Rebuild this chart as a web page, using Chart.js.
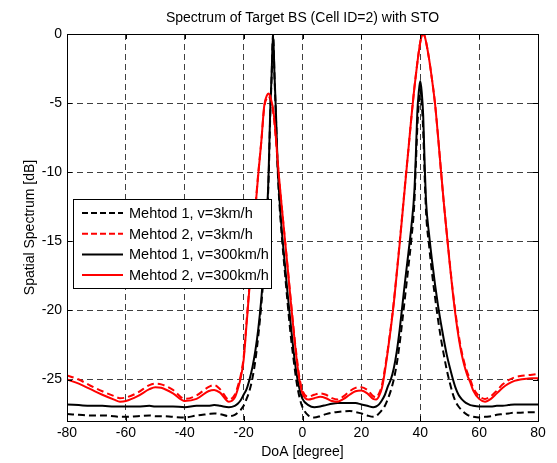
<!DOCTYPE html>
<html>
<head>
<meta charset="utf-8">
<script src="https://cdn.jsdelivr.net/npm/chart.js@4.4.1/dist/chart.umd.min.js"></script>
<style>
  body { margin: 0; background: #fff; }
  canvas { display: block; }
</style>
</head>
<body>
<canvas id="chart" width="557" height="463"></canvas>
<script>
// Data
const doa = [
    -80, -76, -72, -68, -64, -62, -60, -56, -52, -50,
    -48, -44, -40, -36, -32, -30, -28, -25, -23, -22,
    -21, -20, -19, -18, -17, -16, -15, -14, -13, -12,
    -11.5, -11, -10.5, -10, -9.5, -9, -8.5, -8, -7, -6,
    -5, -4, -3, -2, -1, 0, 2, 4, 6, 8,
    10, 12, 14, 16, 18, 20, 22, 24, 25, 26,
    27, 28, 29, 30, 31, 32, 33, 34, 35, 36,
    37, 38, 38.5, 39, 39.5, 40, 40.5, 41, 41.5, 42,
    43, 44, 45, 46, 47, 48, 49, 50, 51, 52,
    53, 54, 55, 56, 57, 58, 60, 62, 64, 66,
    68, 70, 72, 74, 76, 78, 80
];

// Mehtod 1, v=3km/h (black dashed)
const m1v3 = [
    -27.5, -27.55, -27.6, -27.6, -27.65, -27.7, -27.7, -27.65, -27.6, -27.65,
    -27.65, -27.7, -27.75, -27.6, -27.5, -27.45, -27.5, -27.65, -27.55, -27.4,
    -27.2, -26.9, -26.4, -25.8, -24.9, -23.6, -21.8, -19.6, -16.8, -13.0,
    -10.4, -6.2, -3.2, 0, -3.2, -6.2, -9.4, -11.7, -14.7, -17.2,
    -19.6, -21.8, -23.6, -25.2, -26.3, -27.0, -27.6, -27.75, -27.65, -27.5,
    -27.4, -27.35, -27.3, -27.28, -27.35, -27.45, -27.6, -27.7, -27.65, -27.45,
    -27.2, -26.9, -26.4, -25.8, -25.0, -23.9, -22.4, -20.6, -18.7, -16.8,
    -14.8, -12.2, -9.5, -6.8, -5.0, -4.0, -5.0, -7.0, -10.3, -13.0,
    -15.3, -17.3, -19.0, -20.6, -22.0, -23.2, -24.3, -25.2, -26.0, -26.6,
    -26.95, -27.2, -27.4, -27.55, -27.65, -27.7, -27.75, -27.7, -27.65, -27.55,
    -27.5, -27.45, -27.4, -27.4, -27.38, -27.36, -27.36
];

// Mehtod 2, v=3km/h (red dashed)
const m2v3 = [
    -24.7, -25.0, -25.45, -25.85, -26.2, -26.35, -26.3, -25.95, -25.4, -25.3,
    -25.35, -25.75, -26.4, -26.15, -25.55, -25.4, -25.7, -26.45, -26.1, -25.5,
    -24.7, -23.4, -20.8, -18.1, -14.9, -12.5, -10.0, -7.8, -5.3, -4.6,
    -4.5, -4.7, -5.1, -5.6, -6.5, -7.7, -9.1, -10.4, -12.6, -14.8,
    -17.0, -19.2, -21.4, -23.3, -24.9, -25.8, -26.25, -26.1, -26.0, -26.1,
    -26.35, -26.45, -26.2, -25.85, -25.6, -25.55, -25.75, -26.2, -26.3, -26.0,
    -25.4, -24.2, -22.8, -21.2, -19.4, -17.3, -15.1, -12.8, -10.5, -8.3,
    -6.0, -3.9, -3.0, -2.1, -1.3, -0.6, -0.15, 0, -0.15, -0.6,
    -1.8, -3.3, -5.0, -7.3, -9.8, -12.2, -14.4, -16.5, -18.5, -20.2,
    -21.7, -22.9, -23.8, -24.5, -25.0, -25.6, -26.2, -26.4, -26.2, -25.8,
    -25.35, -25.05, -24.85, -24.75, -24.7, -24.65, -24.6
];

// Mehtod 1, v=300km/h (black solid)
const m1v300 = [
    -26.8, -26.85, -26.9, -26.9, -26.95, -26.95, -26.95, -26.95, -26.9, -26.95,
    -26.95, -26.95, -27.0, -26.9, -26.9, -26.85, -26.9, -27.0, -26.9, -26.75,
    -26.5, -26.1, -25.7, -25.0, -24.1, -22.9, -21.3, -19.2, -16.4, -12.8,
    -10.0, -5.8, -3.0, 0, -3.0, -5.8, -9.2, -11.3, -14.3, -16.6,
    -18.9, -21.0, -23.0, -24.6, -25.7, -26.4, -26.85, -27.0, -26.95, -26.85,
    -26.75, -26.7, -26.7, -26.7, -26.7, -26.8, -26.9, -27.0, -26.95, -26.8,
    -26.5, -26.1, -25.5, -25.0, -24.2, -23.0, -21.4, -19.5, -17.6, -15.8,
    -13.9, -11.4, -8.8, -5.7, -4.2, -3.4, -4.2, -5.9, -9.4, -12.2,
    -14.5, -16.4, -18.1, -19.6, -20.9, -22.1, -23.2, -24.1, -24.9, -25.6,
    -26.1, -26.4, -26.6, -26.75, -26.85, -26.9, -26.95, -26.95, -26.95, -26.9,
    -26.9, -26.85, -26.8, -26.8, -26.8, -26.8, -26.8
];

// Mehtod 2, v=300km/h (red solid)
const m2v300 = [
    -25.0, -25.3, -25.7, -26.1, -26.45, -26.6, -26.55, -26.2, -25.7, -25.55,
    -25.6, -26.0, -26.55, -26.4, -25.85, -25.75, -25.95, -26.6, -26.3, -25.7,
    -24.9, -23.6, -21.0, -18.3, -15.0, -12.6, -10.1, -7.8, -5.2, -4.4,
    -4.3, -4.5, -4.9, -5.4, -6.3, -7.6, -9.0, -10.3, -12.6, -14.8,
    -17.0, -19.3, -21.5, -23.5, -25.1, -26.0, -26.45, -26.35, -26.25, -26.35,
    -26.55, -26.6, -26.4, -26.1, -25.85, -25.8, -26.0, -26.4, -26.45, -26.2,
    -25.6, -24.4, -22.9, -21.3, -19.5, -17.4, -15.2, -12.9, -10.6, -8.3,
    -6.0, -3.9, -3.0, -2.1, -1.3, -0.6, -0.15, 0, -0.15, -0.6,
    -1.8, -3.3, -5.0, -7.3, -9.8, -12.2, -14.4, -16.6, -18.6, -20.4,
    -21.9, -23.1, -24.0, -24.7, -25.2, -25.8, -26.4, -26.6, -26.4, -26.0,
    -25.6, -25.3, -25.1, -25.0, -24.95, -24.9, -24.9
];

const xTicks = [-80, -60, -40, -20, 0, 20, 40, 60, 80];
const yTicks = [0, -5, -10, -15, -20, -25];

const seriesLabels = ['Mehtod 1, v=3km/h', 'Mehtod 2, v=3km/h', 'Mehtod 1, v=300km/h', 'Mehtod 2, v=300km/h'];
const seriesColors = ['#000000', '#ff0000', '#000000', '#ff0000'];
const seriesDashed = [true, true, false, false];

const FONT = "'Liberation Sans', Arial, Helvetica, sans-serif";

// Helper: pair x and y arrays
const toPoints = ys => doa.map((x, i) => ({ x: x, y: ys[i] }));

const allSeries = [m1v3, m2v3, m1v300, m2v300];

const datasets = allSeries.map((ys, i) => ({
    label: seriesLabels[i],
    data: toPoints(ys),
    borderColor: seriesColors[i],
    borderWidth: 2,
    borderDash: seriesDashed[i] ? [7, 4] : [],
    pointRadius: 0,
    fill: false,
    cubicInterpolationMode: 'monotone',
    order: 4 - i
}));

// Box, inward ticks, title and legend (MATLAB style)
const matlabDecor = {
    id: 'matlabDecor',
    afterDraw(chart) {
        const { ctx, chartArea: a, scales } = chart;
        ctx.save();

        // box
        ctx.strokeStyle = '#000';
        ctx.lineWidth = 1;
        ctx.setLineDash([]);
        ctx.strokeRect(Math.round(a.left) + 0.5, Math.round(a.top) + 0.5,
            Math.round(a.right - a.left), Math.round(a.bottom - a.top));

        // inward tick marks
        const tl = 5;
        ctx.beginPath();
        xTicks.forEach(v => {
            const px = Math.round(scales.x.getPixelForValue(v)) + 0.5;
            ctx.moveTo(px, a.bottom); ctx.lineTo(px, a.bottom - tl);
            ctx.moveTo(px, a.top); ctx.lineTo(px, a.top + tl);
        });
        yTicks.forEach(v => {
            const py = Math.round(scales.y.getPixelForValue(v)) + 0.5;
            ctx.moveTo(a.left, py); ctx.lineTo(a.left + tl, py);
            ctx.moveTo(a.right, py); ctx.lineTo(a.right - tl, py);
        });
        ctx.stroke();

        // title
        ctx.fillStyle = '#000';
        ctx.font = '14px ' + FONT;
        ctx.textAlign = 'center';
        ctx.textBaseline = 'middle';
        ctx.fillText('Spectrum of Target BS (Cell ID=2) with STO', (a.left + a.right) / 2, 18);

        // legend
        const lx = 73, ly = 199, lw = 198, lh = 89;
        ctx.fillStyle = '#fff';
        ctx.fillRect(lx, ly, lw, lh);
        ctx.strokeStyle = '#000';
        ctx.lineWidth = 1;
        ctx.strokeRect(lx + 0.5, ly + 0.5, lw, lh);
        ctx.font = '14.5px ' + FONT;
        ctx.textAlign = 'left';
        seriesLabels.forEach((lab, i) => {
            const y = 213 + i * 20.7;
            ctx.beginPath();
            ctx.strokeStyle = seriesColors[i];
            ctx.lineWidth = 2;
            ctx.setLineDash(seriesDashed[i] ? [6, 3] : []);
            ctx.moveTo(82, y);
            ctx.lineTo(123, y);
            ctx.stroke();
            ctx.fillStyle = '#000';
            ctx.fillText(lab, 129, y + 1);
        });

        ctx.restore();
    }
};

new Chart(document.getElementById('chart'), {
    type: 'line',
    data: { datasets: datasets },
    options: {
        responsive: false,
        animation: false,
        layout: { padding: { top: 34, right: 19, left: 0, bottom: 0 } },
        plugins: {
            legend: { display: false },
            title: { display: false },
            tooltip: { enabled: false }
        },
        scales: {
            x: {
                type: 'linear',
                min: -80,
                max: 80,
                afterFit: s => { s.height = 42; },
                afterBuildTicks: s => { s.ticks = xTicks.map(v => ({ value: v })); },
                ticks: { color: '#000', font: { family: FONT, size: 14 }, padding: 4, maxRotation: 0 },
                grid: { color: 'rgba(0,0,0,0.75)', lineWidth: 1, drawTicks: false },
                border: { display: false, dash: [6, 4] },
                title: { display: true, text: 'DoA [degree]', color: '#000', font: { family: FONT, size: 14 }, padding: { top: 0, bottom: 2.5 } }
            },
            y: {
                type: 'linear',
                min: -28,
                max: 0,
                afterFit: s => { s.width = 67; },
                afterBuildTicks: s => { s.ticks = yTicks.map(v => ({ value: v })); },
                ticks: { color: '#000', font: { family: FONT, size: 14 }, padding: 5 },
                grid: { color: 'rgba(0,0,0,0.75)', lineWidth: 1, drawTicks: false },
                border: { display: false, dash: [6, 4] },
                title: { display: true, text: 'Spatial Spectrum [dB]', color: '#000', font: { family: FONT, size: 14 }, padding: { top: 21.5, bottom: 0 } }
            }
        }
    },
    plugins: [matlabDecor]
});
</script>
</body>
</html>
